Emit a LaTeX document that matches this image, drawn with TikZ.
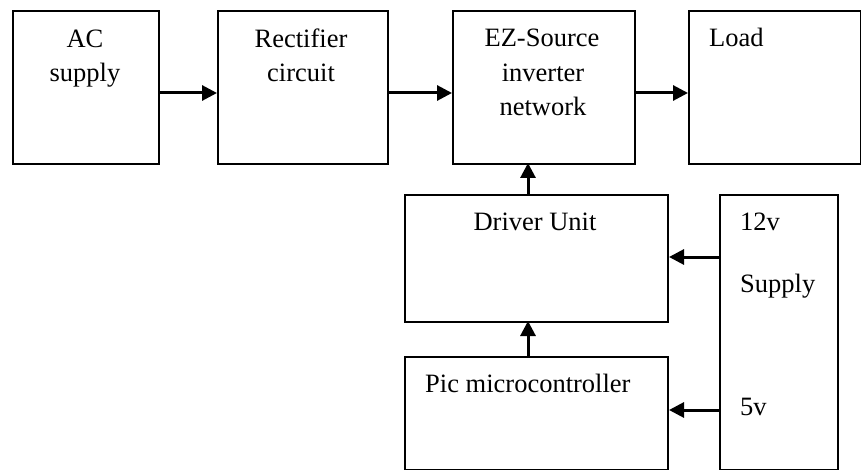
\documentclass[tikz,border=0pt]{standalone}
\usepackage{fontspec}
\setmainfont{Liberation Serif}
\usetikzlibrary{arrows.meta}
\begin{document}
\begin{tikzpicture}[x=1pt,y=-1pt,
  box/.style={draw=black,line width=2pt,rectangle,inner sep=0pt,anchor=north west},
  lbl/.style={inner sep=0pt,font=\fontsize{26.5}{30}\selectfont},
  conn/.style={line width=3pt,-{Triangle[length=15pt,width=15pt]}}]
\useasboundingbox (0,0) rectangle (861,470);
% boxes
\node[box,minimum width=146pt,minimum height=153pt] (ac) at (12,10) {};
\node[box,minimum width=170pt,minimum height=153pt] (rect) at (217,10) {};
\node[box,minimum width=182pt,minimum height=153pt] (ez) at (452,10) {};
\node[box,minimum width=172pt,minimum height=153pt] (load) at (688,10) {};
\node[box,minimum width=263pt,minimum height=127pt] (drv) at (404,194) {};
\node[box,minimum width=263pt,minimum height=113pt] (pic) at (404,356) {};
\node[box,minimum width=118pt,minimum height=275pt] (sup) at (719,194) {};
% labels
\node[lbl,anchor=base] (t1) at (85,48) {AC};
\node[lbl,anchor=base] (t2) at (85,82) {supply};
\node[lbl,anchor=base] (t3) at (301,48) {Rectifier};
\node[lbl,anchor=base] (t4) at (301,82) {circuit};
\node[lbl,anchor=base] (t5) at (542,47) {EZ-Source};
\node[lbl,anchor=base] (t6) at (543,82) {inverter};
\node[lbl,anchor=base] (t7) at (543,116) {network};
\node[lbl,anchor=base west] (t8) at (709,47) {Load};
\node[lbl,anchor=base] (t9) at (535,230) {Driver Unit};
\node[lbl,anchor=base west] (t10) at (740,230) {12v};
\node[lbl,anchor=base west] (t11) at (740,292) {Supply};
\node[lbl,anchor=base west] (t12) at (425,392) {Pic microcontroller};
\node[lbl,anchor=base west] (t13) at (740,415) {5v};
% coordinates for connectors
\coordinate (a1) at (ac.east |- 0,93);
\coordinate (a2) at (rect.west |- 0,93);
\coordinate (b1) at (rect.east |- 0,93);
\coordinate (b2) at (ez.west |- 0,93);
\coordinate (c1) at (ez.east |- 0,93);
\coordinate (c2) at (load.west |- 0,93);
\coordinate (d1) at (528,194);
\coordinate (d2) at (528,163);
\coordinate (e1) at (528,356);
\coordinate (e2) at (528,321);
\coordinate (f1) at (sup.west |- 0,257);
\coordinate (f2) at (drv.east |- 0,257);
\coordinate (g1) at (sup.west |- 0,410);
\coordinate (g2) at (pic.east |- 0,410);
\draw[conn] (a1) -- (a2);
\draw[conn] (b1) -- (b2);
\draw[conn] (c1) -- (c2);
\draw[conn] (d1) -- (d2);
\draw[conn] (e1) -- (e2);
\draw[conn] (f1) -- (f2);
\draw[conn] (g1) -- (g2);
\end{tikzpicture}
\end{document}
